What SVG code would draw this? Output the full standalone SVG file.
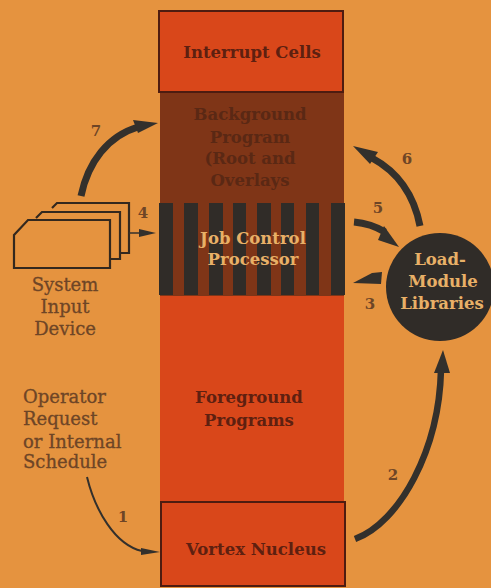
<svg xmlns="http://www.w3.org/2000/svg" width="491" height="588" viewBox="0 0 491 588">
<style>
text{font-family:"DejaVu Serif","Liberation Serif",serif;font-weight:bold;text-anchor:middle;font-size:16.5px}
.lb{fill:#6e4526;font-weight:normal;font-size:18px;stroke:#6e4526;stroke-width:.3px}
.st{text-anchor:start}
.num{fill:#6e4526;font-size:15px}
.dk{fill:#5e2010}
.bg{fill:#5a2814}
.lt{fill:#e8b067}
.edge{fill:#33302c}
.shaft{fill:none;stroke:#33302c}
.card{fill:none;stroke:#33281e;stroke-width:2.2}
.box{fill:#d9471a;stroke:#4e1c10;stroke-width:2}
.bar{fill:#302c28}
</style>
<rect width="491" height="588" fill="#e5933f"/>
<g id="foreground-programs"><rect x="160" y="296" width="184" height="207" fill="#d9471a"/><text class="dk" x="249" y="403">Foreground</text><text class="dk" x="249" y="426">Programs</text></g>
<g id="background-program"><rect x="160" y="93" width="184" height="111" fill="#7f3517"/><text class="bg" x="250" y="120">Background</text><text class="bg" x="250" y="143">Program</text><text class="bg" x="250" y="164">(Root and</text><text class="bg" x="250" y="186">Overlays</text></g>
<g id="job-control-processor"><rect x="160" y="203" width="184" height="93" fill="#7f3517"/>
<rect class="bar" x="159" y="203" width="14" height="92"/><rect class="bar" x="184" y="203" width="14" height="92"/><rect class="bar" x="209" y="203" width="14" height="92"/><rect class="bar" x="233" y="203" width="13" height="92"/><rect class="bar" x="257" y="203" width="14" height="92"/><rect class="bar" x="281" y="203" width="13" height="92"/><rect class="bar" x="306" y="203" width="13" height="92"/><rect class="bar" x="331" y="203" width="14" height="92"/>
<text class="lt" x="253" y="244">Job Control</text><text class="lt" x="253" y="265">Processor</text></g>
<g id="interrupt-cells"><rect class="box" x="159" y="11" width="184" height="81"/><text class="dk" x="252" y="58">Interrupt Cells</text></g>
<g id="vortex-nucleus"><rect class="box" x="161" y="502" width="184" height="84"/><text class="dk" x="256" y="555">Vortex Nucleus</text></g>
<g id="system-input-device">
<path class="card" d="M52 208 L57 203 H129 V253 H119"/>
<path class="card" d="M36 218 L42 212 H120 V259 H110"/>
<path class="card" d="M14 235 L28 220 H110 V268 H14Z"/>
<text class="lb" x="65" y="291">System</text><text class="lb" x="65" y="313">Input</text><text class="lb" x="65" y="335">Device</text></g>
<g id="load-module-libraries"><circle cx="440" cy="287" r="54" fill="#302c28"/><text class="lt" x="440" y="265">Load-</text><text class="lt" x="443" y="287">Module</text><text class="lt" x="442" y="309">Libraries</text></g>
<g id="operator-request"><text class="lb st" x="23" y="403">Operator</text><text class="lb st" x="23" y="425">Request</text><text class="lb st" x="23" y="448">or Internal</text><text class="lb st" x="23" y="468">Schedule</text></g>
<g id="connectors">
<path class="shaft" stroke-width="7" d="M81 196 C88 162 108 136 138 127"/>
<path class="edge" d="M133 120 L158 123 L138 133Z"/>
<path class="shaft" stroke-width="1.5" d="M129 233 H148"/>
<path class="edge" d="M139 229 L156 233 L139 237Z"/>
<path class="shaft" stroke-width="7" d="M420 226 C414 195 398 172 372 158"/>
<path class="edge" d="M353 146 L378 152 L370 164Z"/>
<path class="shaft" stroke-width="7" d="M354 222 C365 223 375 226 385 232"/>
<path class="edge" d="M399 247 L378 240 L384 226Z"/>
<path class="edge" d="M353 283 L372 273 L382 272 L381 284Z"/>
<path class="shaft" stroke-width="6.5" d="M355 539 C400 522 439 450 441 370"/>
<path class="edge" d="M443 350 L450 373 L434 373Z"/>
<path class="shaft" stroke-width="2" d="M87 477 C95 510 115 545 142 551"/>
<path class="edge" d="M141 548 L160 552 L141 555Z"/>
</g>
<g id="labels"><text class="num" x="96" y="136">7</text><text class="num" x="143" y="218">4</text><text class="num" x="407" y="164">6</text><text class="num" x="378" y="213">5</text><text class="num" x="370" y="309">3</text><text class="num" x="393" y="480">2</text><text class="num" x="123" y="522">1</text></g>
</svg>
